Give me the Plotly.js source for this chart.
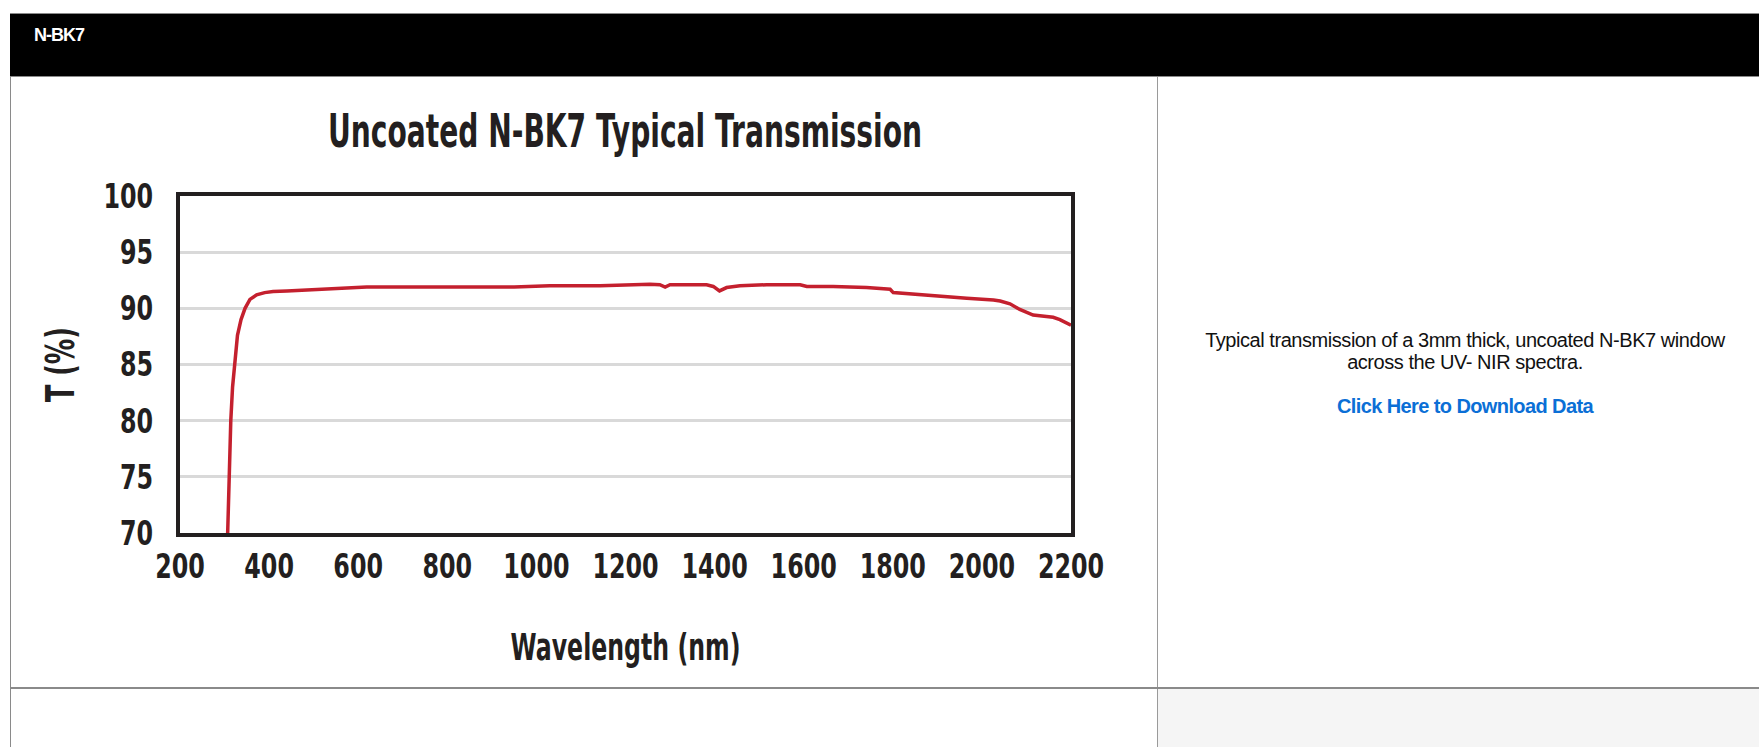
<!DOCTYPE html>
<html>
<head>
<meta charset="utf-8">
<script src="https://cdn.plot.ly/plotly-3.0.1.min.js"></script>
<style>
  html, body { margin: 0; padding: 0; background: #ffffff; width: 1759px; height: 747px; overflow: hidden; font-family: "Liberation Sans", Arial, sans-serif; }
  #header { position: absolute; left: 10px; top: 13px; width: 1760px; height: 62px; background: #000; border-top: 1px solid #8a8a8a; border-bottom: 1px solid #8a8a8a; z-index: 3; }
  #header span { position: absolute; left: 24px; top: 11px; color: #fff; font-weight: bold; font-size: 18px; letter-spacing: -1px; }
  #leftborder { position: absolute; left: 10px; top: 13px; width: 1px; height: 740px; background: #8a8a8a; z-index: 2; }
  #divider { position: absolute; left: 1157px; top: 76px; width: 1px; height: 680px; background: #9a9a9a; z-index: 2; }
  #rowline { position: absolute; left: 10px; top: 687px; width: 1760px; height: 2px; background: #8a8a8a; z-index: 2; }
  #greycell { position: absolute; left: 1158px; top: 689px; width: 620px; height: 70px; background: #f5f5f5; z-index: 1; }
  #desc { position: absolute; left: 1158px; top: 329px; width: 614px; text-align: center; color: #111; font-size: 20px; line-height: 22px; letter-spacing: -0.45px; z-index: 2; }
  #desc a { display: block; margin-top: 22px; color: #0b6fd6; font-weight: bold; text-decoration: none; letter-spacing: -0.6px; }
  #chart { position: absolute; left: 0; top: 0; width: 1157px; height: 687px; z-index: 1; }
</style>
</head>
<body>
<div id="header"><span>N-BK7</span></div>
<div id="leftborder"></div>
<div id="divider"></div>
<div id="rowline"></div>
<div id="greycell"></div>
<div id="desc">Typical transmission of a 3mm thick, uncoated N-BK7 window<br>across the UV- NIR spectra.<a href="#">Click Here to Download Data</a></div>
<div id="chart"></div>
<script>
// Wavelength (nm)
const wavelength = [307, 310, 314, 318, 323, 329, 337, 346, 357, 372, 390, 409, 440, 469, 521, 619, 700, 806, 880, 950, 1030, 1143, 1218, 1255, 1277, 1289, 1300, 1382, 1397, 1411, 1427, 1457, 1517, 1592, 1607, 1666, 1741, 1794, 1801, 1891, 1966, 2026, 2041, 2063, 2085, 2115, 2160, 2175, 2200];
// Transmission (%)
const transmission = [70.0, 75.0, 80.0, 83.0, 85.0, 87.6, 89.0, 90.0, 90.8, 91.2, 91.4, 91.5, 91.55, 91.6, 91.75, 91.9, 91.9, 91.9, 91.85, 91.9, 92.0, 92.0, 92.1, 92.15, 92.1, 91.9, 92.1, 92.1, 91.95, 91.55, 91.85, 92.0, 92.1, 92.1, 91.95, 91.95, 91.85, 91.7, 91.4, 91.1, 90.9, 90.75, 90.65, 90.4, 89.9, 89.4, 89.2, 89.0, 88.5];
const xTicks = [200, 400, 600, 800, 1000, 1200, 1400, 1600, 1800, 2000, 2200];
const yTicks = [70, 75, 80, 85, 90, 95, 100];
const chartTitle = "Uncoated N-BK7 Typical Transmission";
const xTitle = "Wavelength (nm)";
const yTitle = "T (%)";

const fam = "'DejaVu Sans', 'Liberation Sans', sans-serif";
const ink = "#231f20";

const trace = {
  x: wavelength, y: transmission, type: "scatter", mode: "lines",
  line: { color: "#c4202e", width: 3.5 }, hoverinfo: "skip"
};

const layout = {
  width: 1157, height: 687,
  margin: { l: 180, r: 86, t: 196, b: 154 },
  paper_bgcolor: "rgba(0,0,0,0)", plot_bgcolor: "rgba(0,0,0,0)",
  showlegend: false,
  title: {
    text: chartTitle, x: 625 / 1157, xref: "container", xanchor: "center",
    y: 1 - 131 / 687, yref: "container", yanchor: "middle",
    font: { family: fam, size: 47, color: ink, weight: 700 }
  },
  xaxis: {
    range: [200, 2200], tickvals: xTicks, ticktext: xTicks.map(String),
    tickangle: 0,
    showgrid: false, zeroline: false, showline: true, mirror: true,
    linecolor: ink, linewidth: 4, ticks: "", ticklabelstandoff: 0,
    tickfont: { family: fam, size: 34, color: ink, weight: 700 },
    title: { text: xTitle, standoff: 50, font: { family: fam, size: 38, color: ink, weight: 700 } }
  },
  yaxis: {
    range: [70, 100], tickvals: yTicks, ticktext: yTicks.map(String),
    showgrid: true, gridcolor: "#d9d9d9", gridwidth: 3, zeroline: false,
    showline: true, mirror: true, linecolor: ink, linewidth: 4,
    ticks: "", ticklabelstandoff: 16,
    tickfont: { family: fam, size: 34, color: ink, weight: 700 },
    title: { text: yTitle, standoff: 3, font: { family: fam, size: 39, color: ink, weight: 700 } }
  }
};

function squeeze(selector, factor, target) {
  document.querySelectorAll(selector).forEach(function (el) {
    const w = el.getComputedTextLength();
    el.setAttribute("textLength", String(target || w * factor));
    el.setAttribute("lengthAdjust", "spacingAndGlyphs");
  });
}

Plotly.newPlot("chart", [trace], layout, { displayModeBar: false, staticPlot: true }).then(function () {
  squeeze("#chart .gtitle", 1, 594);
  squeeze("#chart .xtitle", 1, 230);
  squeeze("#chart .ytitle", 1, 75);
  squeeze("#chart g.xtick text", 0.7);
  squeeze("#chart g.ytick text", 0.7);
  const yt = document.querySelector("#chart .ytitle");
  if (yt && yt.parentNode) yt.parentNode.setAttribute("transform", "translate(6,0)");
});
</script>
</body>
</html>
